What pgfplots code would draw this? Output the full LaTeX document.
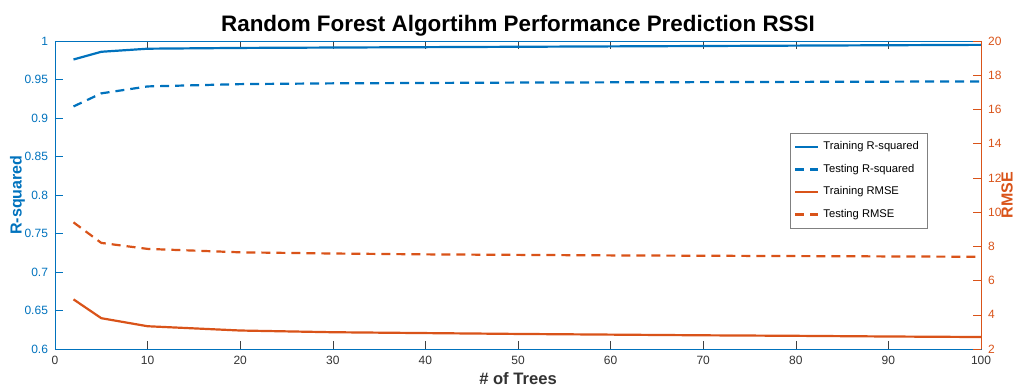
\documentclass[border=0pt]{standalone}
\usepackage{pgfplots}
\pgfplotsset{compat=1.18}
\usepackage{fontspec}
\setmainfont{Liberation Sans}
\definecolor{mblue}{rgb}{0,0.447,0.741}
\definecolor{morange}{rgb}{0.85,0.325,0.098}
\definecolor{axgray}{gray}{0.45}
\begin{document}
\begin{tikzpicture}
\pgfplotsset{
  common/.style={
    scale only axis, width=463pt, height=154pt,
    xmin=0, xmax=100,
    tick align=inside, major tick length=4pt,
    /pgf/number format/assume math mode=true,
    ticklabel style={font=\fontsize{6}{7}\selectfont},
  },
}
\begin{axis}[common, name=ax,
  ymin=0.6, ymax=1,
  xtick={0,10,...,100},
  ytick={0.6,0.65,0.7,0.75,0.8,0.85,0.9,0.95,1},
  yticklabels={0.6,0.65,0.7,0.75,0.8,0.85,0.9,0.95,1},
  ytick pos=left, xtick pos=both,
  x axis line style={axgray},
  y axis line style={mblue},
  xtick style={black!75},
  ytick style={mblue},
  xticklabel style={black!80},
  yticklabel style={mblue},
  xlabel={\bfseries\# of Trees},
  xlabel style={font=\fontsize{8.3}{9}\selectfont, black!80, yshift=3pt},
  ylabel={\bfseries R-squared},
  ylabel style={font=\fontsize{8}{9}\selectfont, mblue, yshift=-7pt},
  title={\bfseries Random Forest Algortihm Performance Prediction RSSI},
  title style={font=\fontsize{11.2}{13}\selectfont, yshift=-7pt},
]
\addplot[mblue, line width=1.1pt] coordinates {
(2,0.976) (5,0.986) (10,0.990) (20,0.991) (30,0.9915) (40,0.992) (50,0.9925) (60,0.993) (70,0.9935) (80,0.994) (90,0.9945) (100,0.995)};
\addplot[mblue, line width=1.1pt, dash pattern=on 4.5pt off 3pt] coordinates {
(2,0.915) (5,0.932) (10,0.941) (20,0.944) (30,0.945) (40,0.9455) (50,0.946) (60,0.9463) (70,0.9466) (80,0.9469) (90,0.9472) (100,0.9475)};
\end{axis}
\begin{axis}[common,
  ymin=2, ymax=20,
  axis x line=none, axis y line*=right,
  ytick={2,4,...,20},
  y axis line style={morange},
  ytick style={morange},
  yticklabel style={morange},
  ylabel={\bfseries RMSE},
  ylabel style={font=\fontsize{8}{9}\selectfont, morange, at={(rel axis cs:1,0.5)}, anchor=center, yshift=-13pt},
  legend cell align=left,
  legend style={at={(rel axis cs:0.942,0.701)}, anchor=north east, draw=black!50, line width=0.4pt,
    font=\fontsize{5.6}{6}\selectfont, row sep=1.7pt, inner xsep=2pt, inner ysep=2pt},
  legend image code/.code={\draw[#1] (0cm,0cm) -- (11.5pt,0cm);},
]
\addlegendimage{mblue, line width=1.1pt}
\addlegendentry{Training R-squared}
\addlegendimage{mblue, line width=1.1pt, dash pattern=on 4.5pt off 3pt}
\addlegendentry{Testing R-squared}
\addplot[morange, line width=1.1pt] coordinates {
(2,4.9) (5,3.8) (10,3.33) (20,3.08) (30,2.98) (40,2.93) (50,2.88) (60,2.84) (70,2.80) (80,2.77) (90,2.73) (100,2.70)};
\addlegendentry{Training RMSE}
\addplot[morange, line width=1.1pt, dash pattern=on 4.5pt off 3pt] coordinates {
(2,9.4) (5,8.2) (10,7.85) (20,7.65) (30,7.58) (40,7.53) (50,7.5) (60,7.47) (70,7.45) (80,7.43) (90,7.41) (100,7.39)};
\addlegendentry{Testing RMSE}
\end{axis}
\pgfresetboundingbox
\path[use as bounding box] ([xshift=-27.5pt,yshift=-18pt]ax.south west) rectangle ([xshift=17.5pt,yshift=20.5pt]ax.north east);
\end{tikzpicture}
\end{document}
